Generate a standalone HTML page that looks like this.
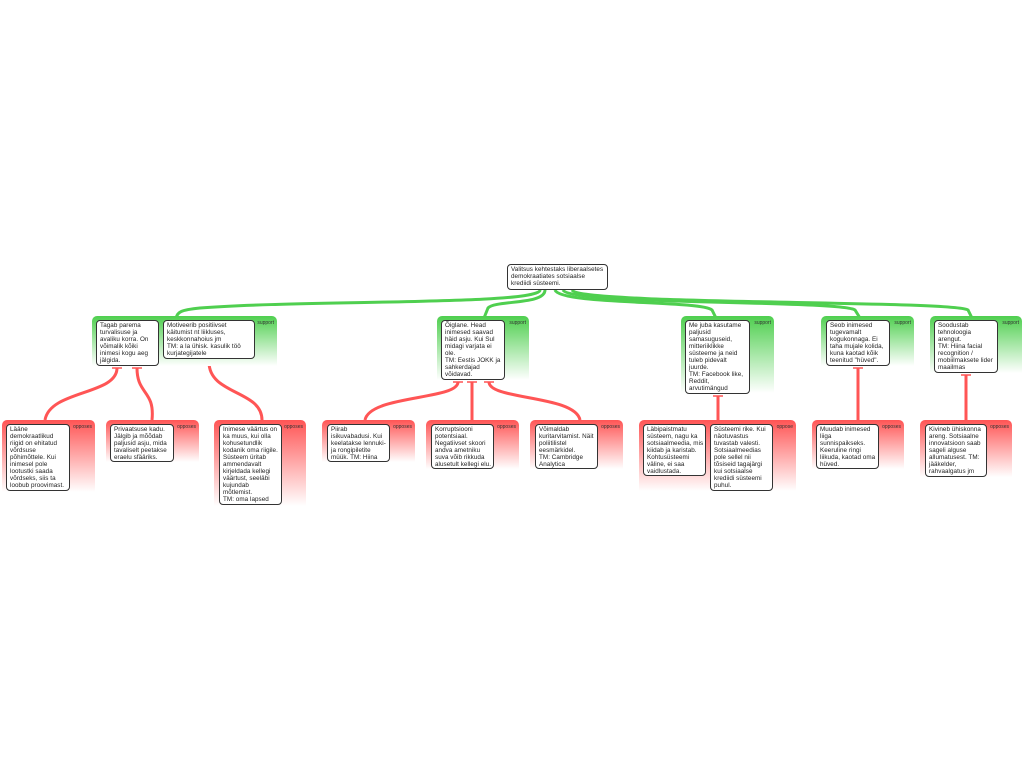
<!DOCTYPE html>
<html><head><meta charset="utf-8"><style>
body{margin:0;width:1024px;height:768px;background:#fff;position:relative;overflow:hidden;font-family:"Liberation Sans",sans-serif}
.p{position:absolute;border-radius:5px 5px 0 0}
.g{background:linear-gradient(#4fcf4f,#fff)}
.r{background:linear-gradient(#f55,#fff)}
.lab{position:absolute;font-size:5px;color:#333;right:3px;top:4px}
.b{position:absolute;background:#fff;border:1.3px solid #333;border-radius:4px;font-size:6.3px;line-height:7px;letter-spacing:0.05px;color:#222;padding:1px 2px 0 3px;box-sizing:border-box;overflow:hidden;white-space:nowrap}
svg{position:absolute;left:0;top:0}
</style></head><body>
<svg width="1024" height="768">
<g fill="none" stroke="#4fcf4f" stroke-width="3">
<path d="M540 290 C540 305 300 300 200 308 C180 310 178 312 176 318"/>
<path d="M545 290 C545 305 495 300 488 308 L484 318"/>
<path d="M555 290 C560 305 700 300 712 310 L716 318"/>
<path d="M563 290 C570 305 840 300 855 310 L860 318"/>
<path d="M572 290 C580 305 950 300 968 310 L972 318"/>
</g>
<g fill="none" stroke="#f55" stroke-width="3">
<path d="M117 368 C117 395 50 390 45 420"/>
<path d="M137 368 C137 395 155 390 152 420"/>
<path d="M209 362 C209 395 262 390 262 420"/>
<path d="M458 382 C458 400 370 395 365 420"/>
<path d="M472 382 L472 420"/>
<path d="M489 382 C489 400 575 395 580 420"/>
<path d="M718 396 L718 420"/>
<path d="M858 368 L858 420"/>
<path d="M966 375 L966 420"/>
</g>
<g stroke="#f55" stroke-width="1.5">
<path d="M112 368h10M132 368h10M204 362h10M453 382h10M467 382h10M484 382h10M713 396h10M853 368h10M961 375h10"/>
</g>
</svg>
<div class="b" style="left:507px;top:264px;width:101px;height:26px">Valitsus kehtestaks liberaalsetes<br>demokraatiates sotsiaalse<br>krediidi süsteemi.</div>

<div class="p g" style="left:92px;top:316px;width:185px;height:50px"><span class="lab">support</span></div>
<div class="b" style="left:96px;top:320px;width:63px;height:46px">Tagab parema<br>turvalisuse ja<br>avaliku korra. On<br>võimalik kõiki<br>inimesi kogu aeg<br>jälgida.</div>
<div class="b" style="left:163px;top:320px;width:92px;height:39px">Motiveerib positiivset<br>käitumist nt liikluses,<br>keskkonnahoius jm<br>TM: a la ühisk. kasulik töö<br>kurjategijatele</div>

<div class="p g" style="left:437px;top:316px;width:92px;height:64px"><span class="lab">support</span></div>
<div class="b" style="left:441px;top:320px;width:64px;height:60px">Õiglane. Head<br>inimesed saavad<br>häid asju. Kui Sul<br>midagi varjata ei<br>ole.<br>TM: Eestis JOKK ja<br>sahkerdajad<br>võidavad.</div>

<div class="p g" style="left:681px;top:316px;width:93px;height:77px"><span class="lab">support</span></div>
<div class="b" style="left:685px;top:320px;width:65px;height:74px">Me juba kasutame<br>paljusid<br>samasuguseid,<br>mitteriiklikke<br>süsteeme ja neid<br>tuleb pidevalt<br>juurde.<br>TM: Facebook like,<br>Reddit,<br>arvutimängud</div>

<div class="p g" style="left:821px;top:316px;width:93px;height:50px"><span class="lab">support</span></div>
<div class="b" style="left:826px;top:320px;width:64px;height:46px">Seob inimesed<br>tugevamalt<br>kogukonnaga. Ei<br>taha mujale kolida,<br>kuna kaotad kõik<br>teenitud "hüved".</div>

<div class="p g" style="left:930px;top:316px;width:92px;height:57px"><span class="lab">support</span></div>
<div class="b" style="left:934px;top:320px;width:64px;height:53px">Soodustab<br>tehnoloogia<br>arengut.<br>TM: Hiina facial<br>recognition /<br>mobiilmaksete lider<br>maailmas</div>

<div class="p r" style="left:2px;top:420px;width:93px;height:72px"><span class="lab">opposes</span></div>
<div class="b" style="left:6px;top:424px;width:64px;height:67px">Lääne<br>demokraatlikud<br>riigid on ehitatud<br>võrdsuse<br>põhimõttele. Kui<br>inimesel pole<br>lootustki saada<br>võrdseks, siis ta<br>loobub proovimast.</div>
<div class="p r" style="left:106px;top:420px;width:93px;height:42px"><span class="lab">opposes</span></div>
<div class="b" style="left:110px;top:424px;width:64px;height:38px">Privaatsuse kadu.<br>Jälgib ja mõõdab<br>paljusid asju, mida<br>tavaliselt peetakse<br>eraelu sfääriks.</div>
<div class="p r" style="left:214px;top:420px;width:92px;height:86px"><span class="lab">opposes</span></div>
<div class="b" style="left:219px;top:424px;width:63px;height:81px">Inimese väärtus on<br>ka muus, kui olla<br>kohusetundlik<br>kodanik oma riigile.<br>Süsteem üritab<br>ammendavalt<br>kirjeldada kellegi<br>väärtust, seeläbi<br>kujundab<br>mõtlemist.<br>TM: oma lapsed</div>

<div class="p r" style="left:322px;top:420px;width:93px;height:42px"><span class="lab">opposes</span></div>
<div class="b" style="left:327px;top:424px;width:63px;height:38px">Piirab<br>isikuvabadusi. Kui<br>keelatakse lennuki-<br>ja rongipiletite<br>müük. TM: Hiina</div>
<div class="p r" style="left:426px;top:420px;width:93px;height:49px"><span class="lab">opposes</span></div>
<div class="b" style="left:431px;top:424px;width:63px;height:45px">Korruptsiooni<br>potentsiaal.<br>Negatiivset skoori<br>andva ametniku<br>suva võib rikkuda<br>alusetult kellegi elu.</div>
<div class="p r" style="left:530px;top:420px;width:93px;height:49px"><span class="lab">opposes</span></div>
<div class="b" style="left:535px;top:424px;width:63px;height:45px">Võimaldab<br>kuritarvitamist. Näit<br>poliitilistel<br>eesmärkidel.<br>TM: Cambridge<br>Analytica</div>

<div class="p r" style="left:639px;top:420px;width:157px;height:71px"><span class="lab">oppose</span></div>
<div class="b" style="left:643px;top:424px;width:63px;height:52px">Läbipaistmatu<br>süsteem, nagu ka<br>sotsiaalmeedia, mis<br>kiidab ja karistab.<br>Kohtusüsteemi<br>väline, ei saa<br>vaidlustada.</div>
<div class="b" style="left:710px;top:424px;width:63px;height:67px">Süsteemi rike. Kui<br>näotuvastus<br>tuvastab valesti.<br>Sotsiaalmeedias<br>pole sellel nii<br>tõsiseid tagajärgi<br>kui sotsiaalse<br>krediidi süsteemi<br>puhul.</div>

<div class="p r" style="left:812px;top:420px;width:92px;height:49px"><span class="lab">opposes</span></div>
<div class="b" style="left:816px;top:424px;width:63px;height:45px">Muudab inimesed<br>liiga<br>sunnispaikseks.<br>Keeruline ringi<br>liikuda, kaotad oma<br>hüved.</div>
<div class="p r" style="left:920px;top:420px;width:92px;height:57px"><span class="lab">opposes</span></div>
<div class="b" style="left:925px;top:424px;width:62px;height:53px">Kivineb ühiskonna<br>areng. Sotsiaalne<br>innovatsioon saab<br>sageli alguse<br>allumatusest. TM:<br>jääkelder,<br>rahvaalgatus jm</div>
</body></html>
